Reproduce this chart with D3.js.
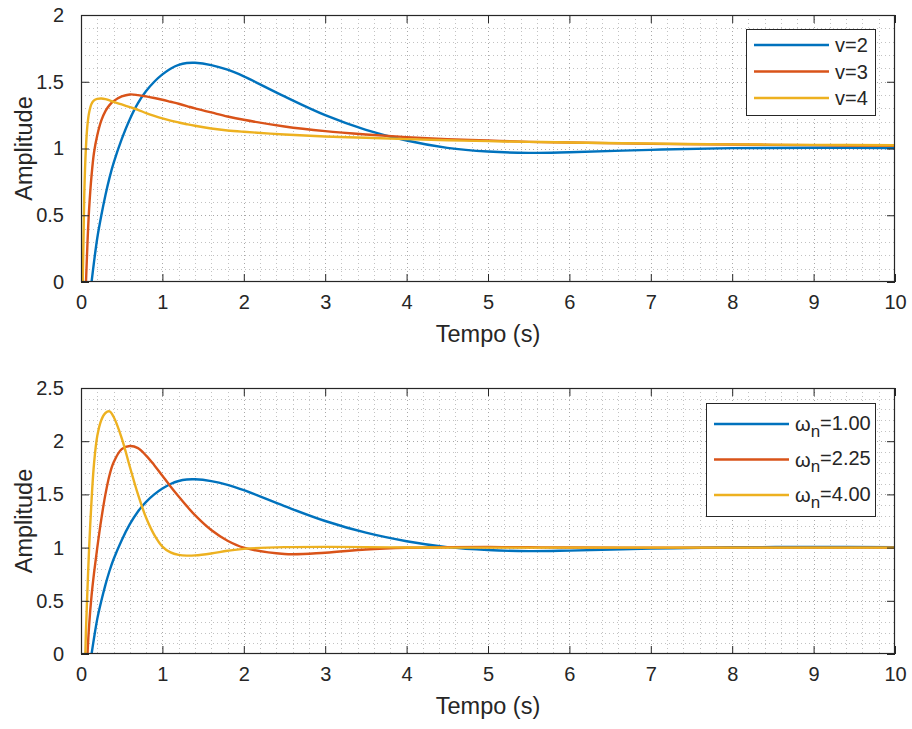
<!DOCTYPE html>
<html>
<head>
<meta charset="utf-8">
<script src="https://cdn.jsdelivr.net/npm/d3@7"></script>
<style>
  body { margin: 0; background: #fff; }
  svg { display: block; font-family: "Liberation Sans", Arial, sans-serif; }
</style>
</head>
<body>
<svg id="chart" width="912" height="729"></svg>
<script>
// time samples (s), denser near the start where curves rise fast
const time = [0, 0.02, 0.04, 0.06, 0.08, 0.1, 0.13, 0.16, 0.2, 0.25, 0.3, 0.35, 0.4, 0.5, 0.6, 0.7, 0.8, 0.9,
  1.0, 1.1, 1.2, 1.3, 1.4, 1.6, 1.8, 2.0, 2.5, 3.0, 3.5, 4.0, 4.5, 5.0, 5.5, 6.0, 7.0, 8.0, 9.0, 10.0];

// top panel: v = 2, 3, 4
const topV2 = [-1.0, -0.8, -0.62, -0.45, -0.3, -0.17, 0.0, 0.15, 0.33, 0.5, 0.65, 0.78, 0.89, 1.07, 1.22, 1.34, 1.43, 1.50,
  1.555, 1.598, 1.626, 1.64, 1.642, 1.625, 1.59, 1.54, 1.39, 1.25, 1.14, 1.06, 1.005, 0.977, 0.967, 0.972, 0.99, 1.003, 1.006, 1.004];
const topV3 = [-1.5, -0.95, -0.42, -0.02, 0.3, 0.55, 0.8, 0.97, 1.1, 1.21, 1.28, 1.325, 1.355, 1.39, 1.405, 1.40, 1.39, 1.378,
  1.365, 1.35, 1.335, 1.318, 1.30, 1.27, 1.24, 1.215, 1.165, 1.13, 1.105, 1.085, 1.07, 1.06, 1.05, 1.045, 1.035, 1.03, 1.025, 1.02];
const topV4 = [-2.5, -0.05, 0.65, 1.0, 1.18, 1.27, 1.335, 1.36, 1.372, 1.375, 1.37, 1.36, 1.35, 1.33, 1.31, 1.29, 1.265, 1.244,
  1.225, 1.209, 1.195, 1.182, 1.17, 1.15, 1.135, 1.125, 1.105, 1.09, 1.08, 1.07, 1.062, 1.055, 1.05, 1.045, 1.037, 1.031, 1.027, 1.024];

// bottom panel: wn = 1.00, 2.25, 4.00
const botW1 = [-1.0, -0.8, -0.62, -0.45, -0.3, -0.17, 0.0, 0.15, 0.33, 0.5, 0.65, 0.78, 0.89, 1.07, 1.22, 1.34, 1.43, 1.50,
  1.555, 1.598, 1.626, 1.64, 1.642, 1.625, 1.59, 1.54, 1.39, 1.25, 1.14, 1.06, 1.005, 0.977, 0.967, 0.972, 0.99, 1.003, 1.006, 1.004];
const botW225 = [-2.5, -1.6, -0.9, -0.38, 0.0, 0.27, 0.55, 0.76, 1.0, 1.27, 1.5, 1.68, 1.8, 1.925, 1.955, 1.935, 1.865, 1.775,
  1.675, 1.575, 1.48, 1.39, 1.305, 1.165, 1.065, 1.0, 0.94, 0.952, 0.982, 0.998, 1.004, 1.005, 1.003, 1.001, 1.0, 1.0, 1.0, 1.0];
const botW4 = [-3.5, -1.6, -0.4, 0.2, 0.62, 1.0, 1.45, 1.79, 2.05, 2.2, 2.265, 2.28, 2.23, 2.03, 1.76, 1.5, 1.28, 1.12,
  1.01, 0.955, 0.932, 0.925, 0.927, 0.945, 0.97, 0.988, 1.004, 1.007, 1.004, 1.001, 1.0, 1.0, 1.0, 1.0, 1.0, 1.0, 1.0, 1.0];

const colors = ['#0072BD', '#D95319', '#EDB120'];
const topLabels = ['v=2', 'v=3', 'v=4'];
const botLabels = ['1.00', '2.25', '4.00'];

const svg = d3.select('#chart');
const left = 81, right = 895;

function drawPanel(opts) {
  const g = svg.append('g');
  const x = d3.scaleLinear().domain([0, 10]).range([left, right]);
  const y = d3.scaleLinear().domain([0, opts.ymax]).range([opts.bottom, opts.top]);

  // dotted grid (major + minor)
  g.append('g').selectAll('line')
    .data(x.ticks(50).filter(d => d > 0 && d < 10))
    .enter().append('line')
    .attr('x1', d => Math.round(x(d)) + 0.5).attr('x2', d => Math.round(x(d)) + 0.5)
    .attr('y1', opts.top).attr('y2', opts.bottom)
    .attr('stroke', d => Math.abs(d - Math.round(d)) < 1e-6 ? '#a8a8a8' : '#c2c2c2')
    .attr('stroke-dasharray', '1,3');
  g.append('g').selectAll('line')
    .data(y.ticks(opts.ymax * 10).filter(d => d > 0 && d < opts.ymax))
    .enter().append('line')
    .attr('x1', left).attr('x2', right)
    .attr('y1', d => Math.round(y(d)) + 0.5).attr('y2', d => Math.round(y(d)) + 0.5)
    .attr('stroke', d => Math.abs(d * 2 - Math.round(d * 2)) < 1e-6 ? '#a8a8a8' : '#c2c2c2')
    .attr('stroke-dasharray', '1,3');

  // curves
  const clipId = 'clip' + opts.top;
  svg.append('clipPath').attr('id', clipId).append('rect')
    .attr('x', left).attr('y', opts.top).attr('width', right - left).attr('height', opts.bottom - opts.top);
  const line = d3.line().x((d, i) => x(time[i])).y(d => y(d)).curve(d3.curveCatmullRom.alpha(0.5));
  g.append('g').attr('clip-path', `url(#${clipId})`).selectAll('path')
    .data(opts.series)
    .enter().append('path')
    .attr('d', d => line(d))
    .attr('fill', 'none')
    .attr('stroke', (d, i) => colors[i])
    .attr('stroke-width', 2.4)
    .attr('stroke-linejoin', 'round');

  // axes with inward ticks on all four sides
  const xTicks = d3.range(0, 11);
  const yTicks = y.ticks(opts.ymax * 2);
  const axB = d3.axisBottom(x).tickValues(xTicks).tickSizeInner(-8).tickSizeOuter(0).tickPadding(13).tickFormat(d3.format('d'));
  const axT = d3.axisTop(x).tickValues(xTicks).tickSizeInner(-8).tickSizeOuter(0).tickFormat('');
  const axL = d3.axisLeft(y).tickValues(yTicks).tickSizeInner(-8).tickSizeOuter(0).tickPadding(17).tickFormat(d3.format('~g'));
  const axR = d3.axisRight(y).tickValues(yTicks).tickSizeInner(-8).tickSizeOuter(0).tickFormat('');
  const axes = [
    g.append('g').attr('transform', `translate(0,${opts.bottom})`).call(axB),
    g.append('g').attr('transform', `translate(0,${opts.top})`).call(axT),
    g.append('g').attr('transform', `translate(${left},0)`).call(axL),
    g.append('g').attr('transform', `translate(${right},0)`).call(axR)
  ];
  axes.forEach(a => {
    a.attr('font-family', null).attr('font-size', null);
    a.select('.domain').remove();
    a.selectAll('line').attr('stroke', '#262626');
    a.selectAll('text').attr('fill', '#262626').style('font-size', '20px');
  });
  g.append('rect')
    .attr('x', left + 0.5).attr('y', opts.top + 0.5)
    .attr('width', right - left - 1).attr('height', opts.bottom - opts.top - 1)
    .attr('fill', 'none').attr('stroke', '#262626').attr('stroke-width', 1.2);

  // axis titles
  g.append('text')
    .attr('x', (left + right) / 2).attr('y', opts.bottom + 60)
    .attr('text-anchor', 'middle').attr('fill', '#262626').style('font-size', '23.5px')
    .text('Tempo (s)');
  g.append('text')
    .attr('transform', `translate(32,${(opts.top + opts.bottom) / 2}) rotate(-90)`)
    .attr('text-anchor', 'middle').attr('fill', '#262626').style('font-size', '23.5px')
    .text('Amplitude');

  // legend
  const lg = g.append('g');
  lg.append('rect')
    .attr('x', opts.legend.x + 0.5).attr('y', opts.legend.y + 0.5)
    .attr('width', opts.legend.w).attr('height', opts.legend.h)
    .attr('fill', '#fff').attr('stroke', '#262626').attr('stroke-width', 1);
  const rows = lg.selectAll('g.row')
    .data(opts.labels)
    .enter().append('g').attr('class', 'row')
    .attr('transform', (d, i) => `translate(${opts.legend.x},${opts.legend.y + opts.legend.row0 + i * opts.legend.dy})`);
  rows.append('line')
    .attr('x1', 8).attr('x2', 8 + opts.legend.lineLen)
    .attr('stroke', (d, i) => colors[i]).attr('stroke-width', 2.4);
  const txt = rows.append('text')
    .attr('x', opts.legend.lineLen + 14).attr('dy', '0.35em')
    .attr('fill', '#262626').style('font-size', '20px');
  opts.labelFn(txt);
}

drawPanel({
  top: 15, bottom: 282, ymax: 2,
  series: [topV2, topV3, topV4],
  labels: topLabels,
  legend: { x: 746, y: 29, w: 129, h: 86, row0: 16, dy: 26.5, lineLen: 75 },
  labelFn: t => t.text(d => d)
});

drawPanel({
  top: 388, bottom: 654, ymax: 2.5,
  series: [botW1, botW225, botW4],
  labels: botLabels,
  legend: { x: 706, y: 403, w: 169, h: 113, row0: 21, dy: 35.5, lineLen: 75 },
  labelFn: t => {
    t.append('tspan').text('\u03C9');
    t.append('tspan').attr('dy', '0.35em').style('font-size', '17px').text('n');
    t.append('tspan').attr('dy', '-0.35em').text(d => '=' + d);
  }
});
</script>
</body>
</html>
